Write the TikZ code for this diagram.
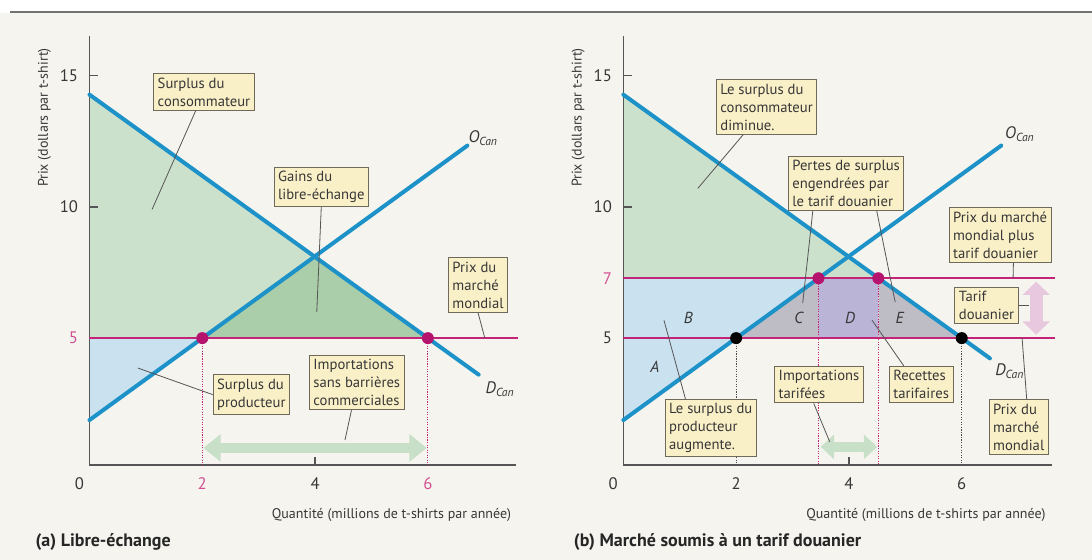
\documentclass[tikz,border=0pt]{standalone}
\usepackage{fontspec}
\setmainfont{PT Sans}
\usetikzlibrary{arrows.meta}

\definecolor{curveblue}{RGB}{28,146,200}
\definecolor{worldpink}{RGB}{196,36,120}
\definecolor{dotpink}{RGB}{180,20,110}
\definecolor{csgreen}{RGB}{204,225,204}
\definecolor{gaingreen}{RGB}{170,205,170}
\definecolor{psblue}{RGB}{202,226,240}
\definecolor{lossgray}{RGB}{190,188,196}
\definecolor{revpurple}{RGB}{186,180,214}
\definecolor{boxfill}{RGB}{250,240,200}
\definecolor{boxline}{RGB}{110,105,90}
\definecolor{axisgray}{RGB}{85,85,85}
\definecolor{textgray}{RGB}{55,55,55}
\definecolor{tickpink}{RGB}{210,80,145}
\definecolor{arrowgreen}{RGB}{200,224,200}
\definecolor{arrowpink}{RGB}{232,200,222}
\definecolor{bgcream}{RGB}{245,244,239}

\tikzset{
  curve/.style={line width=3pt, curveblue, line cap=round},
  worldline/.style={line width=1.2pt, worldpink},
  axisline/.style={line width=1.2pt, axisgray},
  notebox/.style={draw=boxline, fill=boxfill, line width=0.7pt, inner sep=3pt,
    align=left, text=textgray, font=\fontsize{11}{13.5}\selectfont},
  pointer/.style={axisgray, line width=0.6pt},
  guide/.style={densely dotted, line width=0.9pt},
  eqdot/.style={circle, fill=dotpink, inner sep=0pt, minimum size=9pt},
  ticklbl/.style={text=textgray, font=\fontsize{12.5}{14}\selectfont},
  arealbl/.style={text=textgray, font=\itshape\fontsize{12}{14}\selectfont},
  curvelbl/.style={text=textgray, font=\itshape\fontsize{12.5}{14}\selectfont},
  axistitle/.style={text=textgray, font=\fontsize{10.5}{12}\selectfont},
  caption/.style={text=black!85, font=\bfseries\fontsize{13.5}{15}\selectfont},
  imparrow/.style={arrowgreen, {Triangle[length=13pt,width=20pt]}-{Triangle[length=13pt,width=20pt]}},
}

\begin{document}
\begin{tikzpicture}[x=0.75pt, y=0.75pt]
\useasboundingbox (0,0) rectangle (1092,560);
\fill[bgcream] (0,0) rectangle (1092,547);
\draw[line width=1.5pt, black!55] (10,548) -- (1092,548);

% (a) libre-echange
\begin{scope}[shift={(67.1pt,67.9pt)}, x=42.3pt, y=19.7pt]
  \fill[csgreen] (0,14.27) -- (6,5) -- (0,5) -- cycle;
  \fill[gaingreen] (2,5) -- (3.99,8.1) -- (6,5) -- cycle;
  \fill[psblue] (0,5) -- (2,5) -- (0,1.88) -- cycle;

  \draw[axisline] (0,16.5) -- (0,0.17) -- (7.56,0.17);
  \draw[axisline] (0,15) -- ++(0.15,0);
  \draw[axisline] (0,10) -- ++(0.15,0);
  \draw[axisline] (4,0.17) -- ++(0,0.3);
  \node[ticklbl, anchor=east] (a15) at (-0.12,15) {15};
  \node[ticklbl, anchor=east] (a10) at (-0.12,10) {10};
  \node[ticklbl, anchor=east, text=tickpink] (a5) at (-0.12,5) {5};
  \node[ticklbl] (a0) at (-0.18,-0.55) {0};
  \node[ticklbl, text=tickpink] (aq2) at (2,-0.55) {2};
  \node[ticklbl] (aq4) at (4,-0.55) {4};
  \node[ticklbl, text=tickpink] (aq6) at (6,-0.55) {6};
  \node[axistitle, rotate=90] (ay) at (-0.8,13.4) {Prix (dollars par t-shirt)};
  \node[axistitle, anchor=east] (ax) at (7.56,-1.73) {Quantité (millions de t-shirts par année)};
  \node[caption, anchor=west] (acap) at (-1.04,-2.78) {(a) Libre-échange};

  \draw[worldline] (0,5) -- (7.6,5);
  \draw[guide, worldpink] (2,5) -- (2,0.17);
  \draw[guide, worldpink] (6,5) -- (6,0.17);
  \draw[imparrow, line width=8pt] (2.02,0.82) -- (5.98,0.82);

  \draw[curve] (0,1.88) -- (6.7,12.33);
  \draw[curve] (0,14.27) -- (6.9,3.61);
  \node[curvelbl] (aO) at (6.98,12.6) {O\textsubscript{Can}};
  \node[curvelbl] (aD) at (7.28,3.06) {D\textsubscript{Can}};
  \node[eqdot] (aE2) at (2,5) {};
  \node[eqdot] (aE6) at (6,5) {};

  \coordinate (aCSpt) at (1.11,9.9);
  \coordinate (aGpt) at (4.03,5.99);
  \coordinate (aWpt) at (7.01,5);
  \coordinate (aPSpt) at (0.86,3.86);
  \coordinate (aIpt) at (4.53,1.12);
  \node[notebox] (aCS) at (2.03,14.37) {Surplus du\\consommateur};
  \node[notebox] (aG) at (4.11,10.76) {Gains du\\libre-échange};
  \node[notebox] (aW) at (6.89,7.02) {Prix du\\marché\\mondial};
  \node[notebox] (aPS) at (2.87,2.85) {Surplus du\\producteur};
  \node[notebox] (aI) at (4.74,3.31) {Importations\\sans barrières\\commerciales};
  \draw[pointer] (aCS) -- (aCSpt);
  \draw[pointer] (aG.south) -- (aGpt);
  \draw[pointer] (aW.south) -- (aWpt);
  \draw[pointer] (aPS.west) -- (aPSpt);
  \draw[pointer] ([xshift=-4pt]aI.south) -- (aIpt);
\end{scope}

% (b) tarif douanier
\begin{scope}[shift={(467.5pt,67.9pt)}, x=42.3pt, y=19.7pt]
  \fill[csgreen] (0,14.27) -- (4.52,7.28) -- (0,7.28) -- cycle;
  \fill[psblue] (0,1.88) -- (3.46,7.28) -- (0,7.28) -- cycle;
  \fill[lossgray] (2,5) -- (3.46,7.28) -- (3.46,5) -- cycle;
  \fill[revpurple] (3.46,5) rectangle (4.52,7.28);
  \fill[lossgray] (4.52,5) -- (4.52,7.28) -- (6,5) -- cycle;

  \draw[axisline] (0,16.5) -- (0,0.17) -- (7.6,0.17);
  \draw[axisline] (0,15) -- ++(0.15,0);
  \draw[axisline] (0,10) -- ++(0.15,0);
  \draw[axisline] (4,0.17) -- ++(0,0.3);
  \node[ticklbl, anchor=east] (b15) at (-0.12,15) {15};
  \node[ticklbl, anchor=east] (b10) at (-0.12,10) {10};
  \node[ticklbl, anchor=east, text=tickpink] (b7) at (-0.12,7.28) {7};
  \node[ticklbl, anchor=east] (b5) at (-0.12,5) {5};
  \node[ticklbl] (b0) at (-0.18,-0.55) {0};
  \node[ticklbl] (bq2) at (2,-0.55) {2};
  \node[ticklbl] (bq4) at (4,-0.55) {4};
  \node[ticklbl] (bq6) at (6,-0.55) {6};
  \node[axistitle, rotate=90] (by) at (-0.8,13.4) {Prix (dollars par t-shirt)};
  \node[axistitle, anchor=east] (bx) at (7.57,-1.73) {Quantité (millions de t-shirts par année)};
  \node[caption, anchor=west] (bcap) at (-0.96,-2.78) {(b) Marché soumis à un tarif douanier};

  \draw[worldline] (0,5) -- (7.65,5);
  \draw[worldline] (0,7.28) -- (7.65,7.28);
  \draw[guide, black!70] (2,5) -- (2,0.17);
  \draw[guide, black!70] (6,5) -- (6,0.17);
  \draw[guide, worldpink] (3.46,7.28) -- (3.46,0.17);
  \draw[guide, worldpink] (4.52,7.28) -- (4.52,0.17);
  \draw[imparrow, line width=7pt, {Triangle[length=10pt,width=18pt]}-{Triangle[length=10pt,width=18pt]}] (3.5,0.86) -- (4.5,0.86);
  \draw[arrowpink, line width=10pt, {Triangle[length=10pt,width=20pt]}-{Triangle[length=10pt,width=20pt]}] (7.32,7.15) -- (7.32,5.13);

  \draw[curve] (0,1.88) -- (6.7,12.33);
  \draw[curve] (0,14.27) -- (6.5,4.23);
  \node[curvelbl] (bO) at (7.03,12.76) {O\textsubscript{Can}};
  \node[curvelbl] (bD) at (6.85,3.75) {D\textsubscript{Can}};
  \node[eqdot, fill=black] (bE2) at (2,5) {};
  \node[eqdot, fill=black] (bE6) at (6,5) {};
  \node[eqdot] (bT1) at (3.46,7.28) {};
  \node[eqdot] (bT2) at (4.52,7.28) {};

  \node[arealbl] (lA) at (0.56,3.9) {A};
  \node[arealbl] (lB) at (1.15,5.76) {B};
  \node[arealbl] (lC) at (3.11,5.76) {C};
  \node[arealbl] (lD) at (4.02,5.76) {D};
  \node[arealbl] (lE) at (4.9,5.76) {E};

  \coordinate (bCSpt) at (1.32,10.7);
  \coordinate (bCpt) at (3.18,6.33);
  \coordinate (bEpt) at (4.82,6.37);
  \coordinate (bPSpt) at (0.72,5.68);
  \coordinate (bIpt) at (3.66,1.05);
  \coordinate (bRpt) at (4.41,5.68);
  \coordinate (bWTpt) at (6.91,7.28);
  \coordinate (bTpt) at (7.2,6.24);
  \coordinate (bWpt) at (7.07,5);
  \node[notebox] (bCS) at (2.54,13.8) {Le surplus du\\consommateur\\diminue.};
  \node[notebox] (bL) at (3.95,10.89) {Pertes de surplus\\engendrées par\\le tarif douanier};
  \node[notebox] (bPS) at (1.55,1.58) {Le surplus du\\producteur\\augmente.};
  \node[notebox] (bI) at (3.47,3.23) {Importations\\tarifées};
  \node[notebox] (bR) at (5.28,3.23) {Recettes\\tarifaires};
  \node[notebox] (bWT) at (6.68,8.92) {Prix du marché\\mondial plus\\tarif douanier};
  \node[notebox] (bT) at (6.44,6.24) {Tarif\\douanier};
  \node[notebox] (bW) at (7.01,1.62) {Prix du\\marché\\mondial};
  \draw[pointer] (bCS) -- (bCSpt);
  \draw[pointer] ([xshift=-25pt]bL.south) -- (bCpt);
  \draw[pointer] ([xshift=23pt]bL.south) -- (bEpt);
  \draw[pointer] ([xshift=-19pt]bPS.north) -- (bPSpt);
  \draw[pointer] ([xshift=-4pt]bI.south) -- (bIpt);
  \draw[pointer] ([xshift=-13pt]bR.north) -- (bRpt);
  \draw[pointer] ([xshift=10pt]bWT.south) -- (bWTpt);
  \draw[pointer] (bT.east) -- (bTpt);
  \draw[pointer] ([xshift=6pt]bW.north) -- (bWpt);
\end{scope}
\end{tikzpicture}
\end{document}
